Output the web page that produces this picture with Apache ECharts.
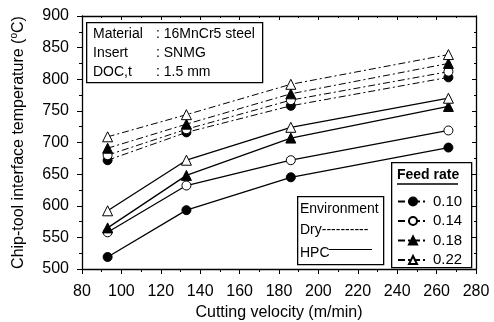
<!DOCTYPE html>
<html>
<head>
<meta charset="utf-8">
<script src="https://cdn.jsdelivr.net/npm/echarts@6/dist/echarts.min.js"></script>
<style>
  html, body { margin: 0; padding: 0; background: #fff; }
  #chart { width: 494px; height: 322px; }
</style>
</head>
<body>
<div id="chart"></div>
<script>
// cutting velocity (m/min)
const velocity = [93, 133, 186, 266];
const feedRates = ['0.10', '0.14', '0.18', '0.22'];

// dry cutting temperature (°C)
const dry010 = [672, 716, 758, 803];
const dry014 = [680, 721, 767, 812];
const dry018 = [691, 729, 777, 825];
const dry022 = [709, 744, 792, 839];

// HPC temperature (°C)
const hpc010 = [519, 593, 645, 692];
const hpc014 = [558, 632, 672, 719];
const hpc018 = [565, 648, 707, 757];
const hpc022 = [592, 672, 724, 770];

const xTicks = [80, 280, 20];
const yTicks = [500, 900, 50];

const symbolCfg = {
    '0.10': { symbol: 'circle', fill: '#000', size: 9 },
    '0.14': { symbol: 'circle', fill: '#fff', size: 9 },
    '0.18': { symbol: 'triangle', fill: '#000', size: 10 },
    '0.22': { symbol: 'triangle', fill: '#fff', size: 10 }
};

const font = 'Liberation Sans, Arial, sans-serif';

function pairs(vals) {
    return velocity.map((v, i) => [v, vals[i]]);
}

function makeSeries(name, vals, dry) {
    const c = symbolCfg[name];
    return {
        name: name,
        type: 'line',
        data: pairs(vals),
        symbol: c.symbol,
        symbolSize: c.size,
        z: dry ? 3 : 4,
        itemStyle: { color: c.fill, borderColor: '#000', borderWidth: 1 },
        lineStyle: dry
            ? { color: '#000', width: 1, type: [7, 3, 2, 3] }
            : { color: '#000', width: 1.3, type: 'solid' }
    };
}

const chart = echarts.init(document.getElementById('chart'));

const series = [
    makeSeries('0.10', dry010, true),
    makeSeries('0.14', dry014, true),
    makeSeries('0.18', dry018, true),
    makeSeries('0.22', dry022, true),
    makeSeries('0.10', hpc010, false),
    makeSeries('0.14', hpc014, false),
    makeSeries('0.18', hpc018, false),
    makeSeries('0.22', hpc022, false)
];

const axisLine = { show: true, lineStyle: { color: '#000', width: 1.3 } };

const option = {
    animation: false,
    textStyle: { fontFamily: font },
    grid: { left: 82, right: 18, top: 16, bottom: 53, containLabel: false, outerBoundsMode: 'none' },
    xAxis: [{
        type: 'value',
        min: xTicks[0], max: xTicks[1], interval: xTicks[2],
        axisLine: axisLine,
        axisTick: { show: true, length: 5, lineStyle: { color: '#000' } },
        minorTick: { show: true, splitNumber: 2, length: 3, lineStyle: { color: '#000' } },
        axisLabel: { color: '#000', fontSize: 16, fontFamily: font, margin: 15 },
        splitLine: { show: false },
        name: 'Cutting velocity (m/min)',
        nameLocation: 'middle',
        nameGap: 35,
        nameTextStyle: { color: '#000', fontSize: 16, fontFamily: font }
    }, {
        type: 'value', position: 'top',
        min: xTicks[0], max: xTicks[1], interval: xTicks[2],
        axisLine: axisLine,
        axisTick: { show: true, inside: true, length: 4, lineStyle: { color: '#000' } },
        minorTick: { show: true, splitNumber: 2, length: 2, lineStyle: { color: '#000' } },
        axisLabel: { show: false },
        splitLine: { show: false }
    }],
    yAxis: [{
        type: 'value',
        min: yTicks[0], max: yTicks[1], interval: yTicks[2],
        axisLine: axisLine,
        axisTick: { show: true, length: 5, lineStyle: { color: '#000' } },
        minorTick: { show: true, splitNumber: 2, length: 3, lineStyle: { color: '#000' } },
        axisLabel: { color: '#000', fontSize: 16, fontFamily: font, margin: 13 },
        splitLine: { show: false },
        name: 'Chip-tool interface temperature ({sup|o}C)',
        nameLocation: 'middle',
        nameGap: 54,
        nameTextStyle: {
            color: '#000', fontSize: 16, fontFamily: font,
            rich: { sup: { fontSize: 10, verticalAlign: 'top', padding: [0, 0, 9, 0], color: '#000', fontFamily: font } }
        }
    }, {
        type: 'value', position: 'right',
        min: yTicks[0], max: yTicks[1], interval: yTicks[2],
        axisLine: axisLine,
        axisTick: { show: true, inside: true, length: 4, lineStyle: { color: '#000' } },
        minorTick: { show: true, splitNumber: 2, length: 2, lineStyle: { color: '#000' } },
        axisLabel: { show: false },
        splitLine: { show: false }
    }],
    legend: {
        data: feedRates,
        orient: 'vertical',
        left: 392,
        top: 189,
        itemGap: 4.5,
        itemWidth: 30,
        itemHeight: 10,
        textStyle: { color: '#000', fontSize: 15, fontFamily: font },
        selectedMode: false
    },
    graphic: [
        // info box top-left
        { type: 'rect', left: 86, top: 22, shape: { width: 176, height: 60 },
          style: { fill: '#fff', stroke: '#000', lineWidth: 1.3 }, z: 10 },
        { type: 'text', left: 93, top: 27, z: 11,
          style: { text: 'Material', font: '14px ' + font, fill: '#000' } },
        { type: 'text', left: 156, top: 27, z: 11,
          style: { text: ': 16MnCr5 steel', font: '14px ' + font, fill: '#000' } },
        { type: 'text', left: 93, top: 46, z: 11,
          style: { text: 'Insert', font: '14px ' + font, fill: '#000' } },
        { type: 'text', left: 156, top: 46, z: 11,
          style: { text: ': SNMG', font: '14px ' + font, fill: '#000' } },
        { type: 'text', left: 93, top: 65, z: 11,
          style: { text: 'DOC,t', font: '14px ' + font, fill: '#000' } },
        { type: 'text', left: 156, top: 65, z: 11,
          style: { text: ': 1.5 mm', font: '14px ' + font, fill: '#000' } },
        // environment box
        { type: 'rect', left: 297, top: 196, shape: { width: 86, height: 68 },
          style: { fill: '#fff', stroke: '#000', lineWidth: 1.3 }, z: 10 },
        { type: 'text', left: 300, top: 202, z: 11,
          style: { text: 'Environment', font: '14px ' + font, fill: '#000' } },
        { type: 'text', left: 300, top: 223, z: 11,
          style: { text: 'Dry----------', font: '14px ' + font, fill: '#000' } },
        { type: 'text', left: 300, top: 246, z: 11,
          style: { text: 'HPC', font: '14px ' + font, fill: '#000' } },
        { type: 'line', z: 11, shape: { x1: 329, y1: 249.5, x2: 372, y2: 249.5 },
          style: { stroke: '#000', lineWidth: 1 } },
        // feed rate legend box
        { type: 'rect', left: 391, top: 162, shape: { width: 80, height: 105 },
          style: { fill: '#fff', stroke: '#000', lineWidth: 1.3 }, z: 1 },
        { type: 'text', left: 397, top: 168, z: 11,
          style: { text: 'Feed rate', font: 'bold 14px ' + font, fill: '#000' } },
        { type: 'line', z: 11, shape: { x1: 397, y1: 184, x2: 458, y2: 184 },
          style: { stroke: '#000', lineWidth: 1.5 } }
    ],
    series: series
};

chart.setOption(option);
</script>
</body>
</html>
